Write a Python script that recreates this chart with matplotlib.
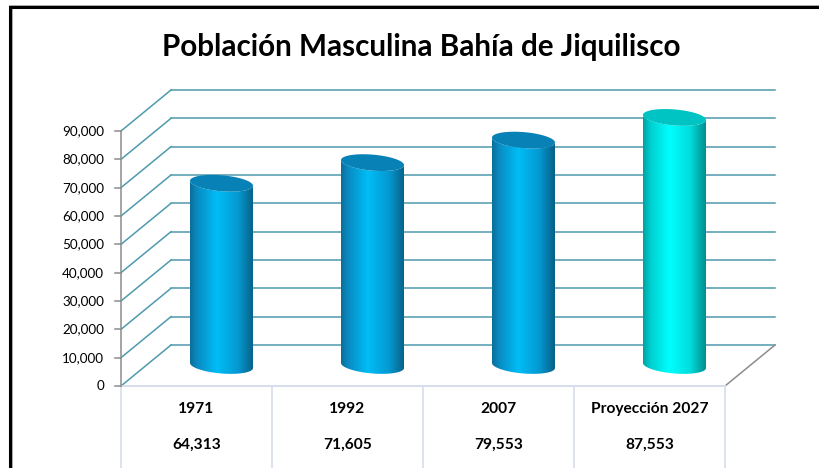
import numpy as np
import matplotlib.pyplot as plt
from matplotlib.colors import LinearSegmentedColormap
from matplotlib.patches import PathPatch, Rectangle
from matplotlib.path import Path

# data
categories = ['1971', '1992', '2007', 'Proyección 2027']
values = [64313, 71605, 79553, 87553]
value_labels = ['64,313', '71,605', '79,553', '87,553']
y_ticks = list(range(0, 90001, 10000))
title = 'Población Masculina Bahía de Jiquilisco'

# geometry (pixel scale of the original picture)
W, H = 819, 468
PX_CAT = 151.0               # px per category
PX_VAL = 255.0 / 90000       # px per unit of value
X0_PX, Y0_PX = 121, 386      # origin of the front face
DX = 50 / PX_CAT             # depth offset in category units
DY = 41 / PX_VAL             # depth offset in value units

grid_c = '#4E9AAE'
axis_c = '#8C8C8C'
table_c = '#D5DEEC'

plt.rcParams['font.family'] = ['Lato', 'DejaVu Sans']

fig = plt.figure(figsize=(W / 100, H / 100), dpi=100)
ax = fig.add_axes([0, 0, 1, 1])
ax.set_xlim(-X0_PX / PX_CAT, (W - X0_PX) / PX_CAT)
ax.set_ylim(-(H - Y0_PX) / PX_VAL, Y0_PX / PX_VAL)
ax.axis('off')

# outer frame
fig.add_artist(Rectangle((11 / W, -0.05), 1.2, 1 - 7.5 / H + 0.05, transform=fig.transFigure,
                         fill=False, ec='#9A9A9A', lw=2.6, zorder=0))
fig.add_artist(Rectangle((10 / W, -0.05), 1.2, 1 - 7.0 / H + 0.05, transform=fig.transFigure,
                         fill=False, ec='black', lw=2.2, zorder=1))

fig.text(421 / W, 1 - 47 / H, title, ha='center', va='center', fontsize=21.3,
         fontweight='bold', color='black')

# back wall + side wall gridlines
for v in y_ticks:
    ax.plot([DX, 4 + DX], [v + DY, v + DY], color=grid_c, lw=1.1, zorder=1)
    ax.plot([0, DX], [v, v + DY], color=grid_c, lw=1.1, zorder=1)

# floor
ax.plot([4 + DX, 4], [DY, 0], color=axis_c, lw=1.1, zorder=1)
ax.plot([0, 4], [0, 0], color=table_c, lw=1.4, zorder=1)

# front value axis
ax.plot([0, 0], [0, 90000], color=axis_c, lw=1.1, zorder=2)
tick_len = 6 / PX_CAT
for v in y_ticks:
    ax.plot([-tick_len, 0], [v, v], color=axis_c, lw=1.1, zorder=2)
    ax.text(-17 / PX_CAT, v, f'{v:,}', ha='right', va='center', fontsize=9.7, color='black')

# cylinders
a = 31.5 / PX_CAT
b = 8.0 / PX_VAL
s = -2.5 / PX_VAL
t = np.linspace(0, 2 * np.pi, 200)


def ellipse(cx, cy, tt):
    return np.column_stack([cx + a * np.cos(tt), cy + s * np.cos(tt) + b * np.sin(tt)])


blue_cm = LinearSegmentedColormap.from_list(
    'blue', [(0, '#0B6E98'), (0.12, '#0A8CC4'), (0.42, '#00BDF6'), (0.75, '#0599D2'), (1, '#075F85')])
cyan_cm = LinearSegmentedColormap.from_list(
    'cyan', [(0, '#00A2A2'), (0.12, '#00CFCF'), (0.42, '#00FFFF'), (0.75, '#00DCDC'), (1, '#008E8E')])
top_colors = ['#0881B6', '#0881B6', '#0881B6', '#00C4C4']
cmaps = [blue_cm, blue_cm, blue_cm, cyan_cm]

grad = np.linspace(0, 1, 256).reshape(1, -1)
for i, val in enumerate(values):
    cx = i + 0.5 + 0.5 * DX
    base = 0.5 * DY
    top = base + val
    lower = ellipse(cx, base, np.linspace(np.pi, 2 * np.pi, 100))
    upper_back = ellipse(cx, top, np.linspace(2 * np.pi, np.pi, 100))
    body = np.vstack([lower, upper_back, lower[:1]])
    patch = PathPatch(Path(body), fc='none', ec='none')
    ax.add_patch(patch)
    im = ax.imshow(grad, cmap=cmaps[i], aspect='auto', interpolation='bilinear',
                   extent=[cx - a, cx + a, base - b - abs(s), top + b + abs(s)], zorder=3)
    im.set_clip_path(patch)
    ax.fill(*ellipse(cx, top, t).T, color=top_colors[i], lw=0, zorder=4)

# data table
row1 = -23 / PX_VAL
row2 = -59 / PX_VAL
for i in range(5):
    ax.plot([i, i], [0, -(H - Y0_PX) / PX_VAL], color=table_c, lw=1.2, zorder=1)
for i, (c, lab) in enumerate(zip(categories, value_labels)):
    ax.text(i + 0.5, row1, c, ha='center', va='center', fontsize=11.2, fontweight='bold')
    ax.text(i + 0.5, row2, lab, ha='center', va='center', fontsize=11.2, fontweight='bold')

fig.savefig('out.png', dpi=100)
